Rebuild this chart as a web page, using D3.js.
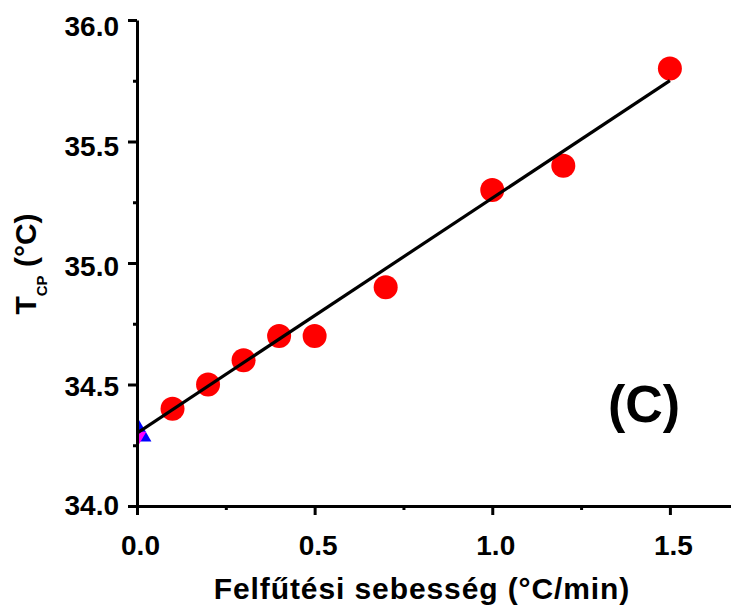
<!DOCTYPE html>
<html>
<head>
<meta charset="utf-8">
<script src="https://cdn.jsdelivr.net/npm/d3@7"></script>
<style>
  html, body { margin: 0; padding: 0; background: #fff; }
  svg { display: block; font-family: "Liberation Sans", Arial, Helvetica, sans-serif; font-weight: bold; }
</style>
</head>
<body>
<svg id="chart" width="731" height="610"></svg>
<script>
// Heating rate (°C/min) and measured cloud point temperature T_CP (°C)
const heatingRates = [0.1, 0.2, 0.3, 0.4, 0.5, 0.7, 1.0, 1.2, 1.5];
const cloudPoints  = [34.4, 34.5, 34.6, 34.7, 34.7, 34.9, 35.3, 35.4, 35.8];

// Extrapolated value at zero heating rate
const zeroRate = [0];
const zeroRateTcp = [34.3];

// Linear fit: T_CP = intercept + slope * rate, drawn over this rate range
const fitIntercept = 34.30;
const fitSlope = 0.967;
const fitRange = [0, 1.5];

// Axis ticks
const xTicks = [0.0, 0.5, 1.0, 1.5];
const xMinorTicks = [0.25, 0.75, 1.25];
const yTicks = [34.0, 34.5, 35.0, 35.5, 36.0];
const yMinorTicks = [34.25, 34.75, 35.25, 35.75];

const svg = d3.select("#chart");

const x = d3.scaleLinear().domain([0, 1.672]).range([137, 731]);
const y = d3.scaleLinear().domain([34, 36]).range([506, 20]);

// clip region for the plotted marks
svg.append("defs").append("clipPath").attr("id", "plotClip")
  .append("rect")
  .attr("x", x(0)).attr("y", 0)
  .attr("width", 731 - x(0)).attr("height", y(34));

const marks = svg.append("g").attr("clip-path", "url(#plotClip)");

// zero-rate markers: blue up-triangle with a small magenta down-triangle
marks.selectAll("path.zup").data(zeroRate).join("path")
  .attr("class", "zup")
  .attr("d", d3.symbol().type(d3.symbolTriangle).size(360))
  .attr("transform", (d, i) => `translate(${x(d)},${y(zeroRateTcp[i])})`)
  .attr("fill", "#0000ff");

marks.selectAll("path.zdown").data(zeroRate).join("path")
  .attr("class", "zdown")
  .attr("d", d3.symbol().type(d3.symbolTriangle).size(150))
  .attr("transform", (d, i) => `translate(${x(d)},${y(zeroRateTcp[i]) + 4}) rotate(180)`)
  .attr("fill", "#ff00ff");

// measured points
marks.selectAll("circle.pt").data(heatingRates).join("circle")
  .attr("class", "pt")
  .attr("cx", d => x(d))
  .attr("cy", (d, i) => y(cloudPoints[i]))
  .attr("r", 12)
  .attr("fill", "#ff0000");

// regression line
marks.append("path")
  .datum(fitRange)
  .attr("d", d3.line().x(d => x(d)).y(d => y(fitIntercept + fitSlope * d)))
  .attr("stroke", "#000")
  .attr("stroke-width", 3.2)
  .attr("fill", "none");

// axes
const xAxis = svg.append("g").attr("transform", `translate(0,${y(34)})`);
xAxis.call(d3.axisBottom(x).tickValues(xTicks).tickSize(9).tickSizeOuter(0).tickFormat(d3.format(".1f")));
xAxis.append("g").call(d3.axisBottom(x).tickValues(xMinorTicks).tickSize(4).tickSizeOuter(0).tickFormat(""))
  .select(".domain").remove();

const yAxis = svg.append("g").attr("transform", `translate(${x(0)},0)`);
yAxis.call(d3.axisLeft(y).tickValues(yTicks).tickSize(9).tickSizeOuter(0).tickFormat(d3.format(".1f")));
yAxis.append("g").call(d3.axisLeft(y).tickValues(yMinorTicks).tickSize(4).tickSizeOuter(0).tickFormat(""))
  .select(".domain").remove();

svg.selectAll(".domain").attr("stroke", "#000").attr("stroke-width", 3);
svg.selectAll(".tick line").attr("stroke", "#000").attr("stroke-width", 3);
svg.selectAll(".tick text")
  .attr("fill", "#000")
  .style("font-size", "28px")
  .style("font-weight", "bold")
  .style("font-family", "'Liberation Sans', Arial, sans-serif");
xAxis.selectAll(".tick text").attr("y", 29).attr("dx", 3);
// upper labels sit a little below their ticks
yAxis.selectAll(".tick text").attr("x", -18).attr("dy", d => (0.32 * 28 + 3.5 * (d - 34)) + "px");

// axis titles
svg.append("text")
  .attr("x", 422).attr("y", 599)
  .attr("text-anchor", "middle")
  .style("font-size", "30px")
  .style("letter-spacing", "0.9px")
  .text("Felfűtési sebesség (°C/min)");

const yTitle = svg.append("text")
  .attr("transform", "translate(36,264) rotate(-90)")
  .attr("text-anchor", "middle")
  .style("font-size", "30px");
yTitle.append("tspan").text("T");
yTitle.append("tspan").attr("dy", 11).style("font-size", "15px").text("CP");
yTitle.append("tspan").attr("dy", -11).text(" (°C)");

// panel label
svg.append("text")
  .attr("x", 644).attr("y", 422)
  .attr("text-anchor", "middle")
  .style("font-size", "52px")
  .text("(C)");
</script>
</body>
</html>
